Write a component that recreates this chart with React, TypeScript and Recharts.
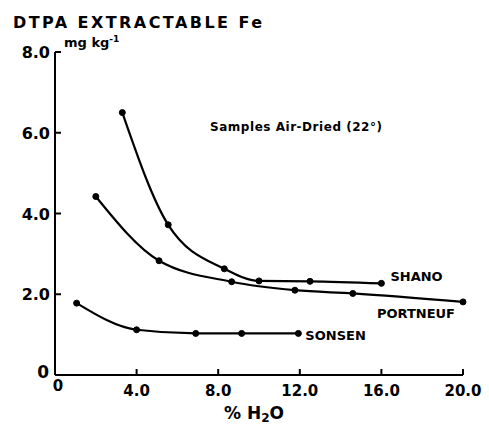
import { LineChart, Line, XAxis, YAxis } from "recharts";

const xTicks = [0, 4, 8, 12, 16, 20];
const yTicks = [0, 2, 4, 6, 8];

const shanoX = [3.3, 5.55, 8.3, 10.0, 12.5, 16.0];
const shanoY = [6.5, 3.72, 2.63, 2.33, 2.32, 2.27];

const portneufX = [2.0, 5.1, 8.66, 11.76, 14.6, 20.0];
const portneufY = [4.42, 2.83, 2.31, 2.1, 2.02, 1.81];

const sonsenX = [1.06, 4.0, 6.9, 9.15, 11.93];
const sonsenY = [1.78, 1.12, 1.03, 1.03, 1.03];

const toRows = (xs: number[], ys: number[]) =>
  xs.map((x, i) => ({ x, y: ys[i] }));

const FONT = "'DejaVu Sans', sans-serif";

// tick props arrive offset by tickSize (6) + tickMargin (2) from the axis line
function XTick(props: any) {
  const { x, y, payload } = props;
  const v = payload.value as number;
  if (v === 0) return <g />;
  return (
    <g>
      <line x1={x} y1={y - 8} x2={x} y2={y - 14} stroke="#000" strokeWidth={2} />
      <text
        x={x}
        y={y + 13}
        textAnchor="middle"
        fontFamily={FONT}
        fontWeight="bold"
        fontSize={15}
        fill="#000"
      >
        {v.toFixed(1)}
      </text>
    </g>
  );
}

function YTick(props: any) {
  const { x, y, payload } = props;
  const v = payload.value as number;
  if (v === 0) {
    // origin: the y "0" sits left of the corner, the x "0" just below it
    return (
      <g fontFamily={FONT} fontWeight="bold" fill="#000">
        <text x={x + 2} y={y + 3} textAnchor="end" fontSize={17}>0</text>
        <text x={x + 11} y={y + 16} textAnchor="middle" fontSize={15}>0</text>
      </g>
    );
  }
  return (
    <g>
      <line x1={x + 8} y1={y} x2={x + 14} y2={y} stroke="#000" strokeWidth={2} />
      <text
        x={x + 3}
        y={y + 6}
        textAnchor="end"
        fontFamily={FONT}
        fontWeight="bold"
        fontSize={16}
        fill="#000"
      >
        {v.toFixed(1)}
      </text>
    </g>
  );
}

function endLabel(name: string, dx: number, dy: number, anchor: string) {
  return (props: any) => {
    const { x, y, index } = props;
    if (index !== props.lastIndex) return null;
    return (
      <text
        x={x + dx}
        y={y + dy}
        textAnchor={anchor}
        fontFamily={FONT}
        fontWeight="bold"
        fontSize={13}
        fill="#000"
      >
        {name}
      </text>
    );
  };
}

const series = [
  { name: "SHANO", xs: shanoX, ys: shanoY, dx: 9, dy: -2, anchor: "start" },
  { name: "PORTNEUF", xs: portneufX, ys: portneufY, dx: -8, dy: 16, anchor: "end" },
  { name: "SONSEN", xs: sonsenX, ys: sonsenY, dx: 7, dy: 7, anchor: "start" },
];

export default function App() {
  return (
    <div style={{ position: "fixed", left: 0, top: 0, width: 489, height: 426, background: "#fff" }}>
      <LineChart width={489} height={426} margin={{ top: 52, right: 26, bottom: 0, left: 0 }}>
        <XAxis
          type="number"
          dataKey="x"
          domain={[0, 20]}
          ticks={xTicks}
          interval={0}
          tickLine={false}
          axisLine={{ stroke: "#000", strokeWidth: 2 }}
          tick={<XTick />}
          height={51}
          allowDuplicatedCategory={false}
        />
        <YAxis
          type="number"
          dataKey="y"
          domain={[0, 8]}
          ticks={yTicks}
          interval={0}
          tickLine={false}
          axisLine={{ stroke: "#000", strokeWidth: 2 }}
          tick={<YTick />}
          width={55}
        />
        {series.map((s) => {
          const rows = toRows(s.xs, s.ys);
          const render = endLabel(s.name, s.dx, s.dy, s.anchor);
          return (
            <Line
              key={s.name}
              data={rows}
              dataKey="y"
              type="monotone"
              stroke="#000"
              strokeWidth={2.2}
              dot={{ r: 3, fill: "#000", stroke: "#000", strokeWidth: 1 }}
              isAnimationActive={false}
              label={(p: any) => render({ ...p, lastIndex: rows.length - 1 })}
            />
          );
        })}
      </LineChart>
      <svg
        width={489}
        height={426}
        style={{ position: "absolute", left: 0, top: 0, pointerEvents: "none" }}
      >
        <text x={13} y={28} fontFamily={FONT} fontWeight="bold" fontSize={16} textLength={249} fill="#000">
          DTPA EXTRACTABLE Fe
        </text>
        <text x={64} y={47} fontFamily={FONT} fontWeight="bold" fontSize={13} fill="#000">
          mg kg
          <tspan dy={-5} fontSize={9}>-1</tspan>
        </text>
        <text x={210} y={131} fontFamily={FONT} fontWeight="bold" fontSize={12} textLength={172} fill="#000">
          Samples Air-Dried (22°)
        </text>
        <text x={224} y={419} fontFamily={FONT} fontWeight="bold" fontSize={17} fill="#000">
          % H
          <tspan dy={3} fontSize={12}>2</tspan>
          <tspan dy={-3}>O</tspan>
        </text>
      </svg>
    </div>
  );
}
